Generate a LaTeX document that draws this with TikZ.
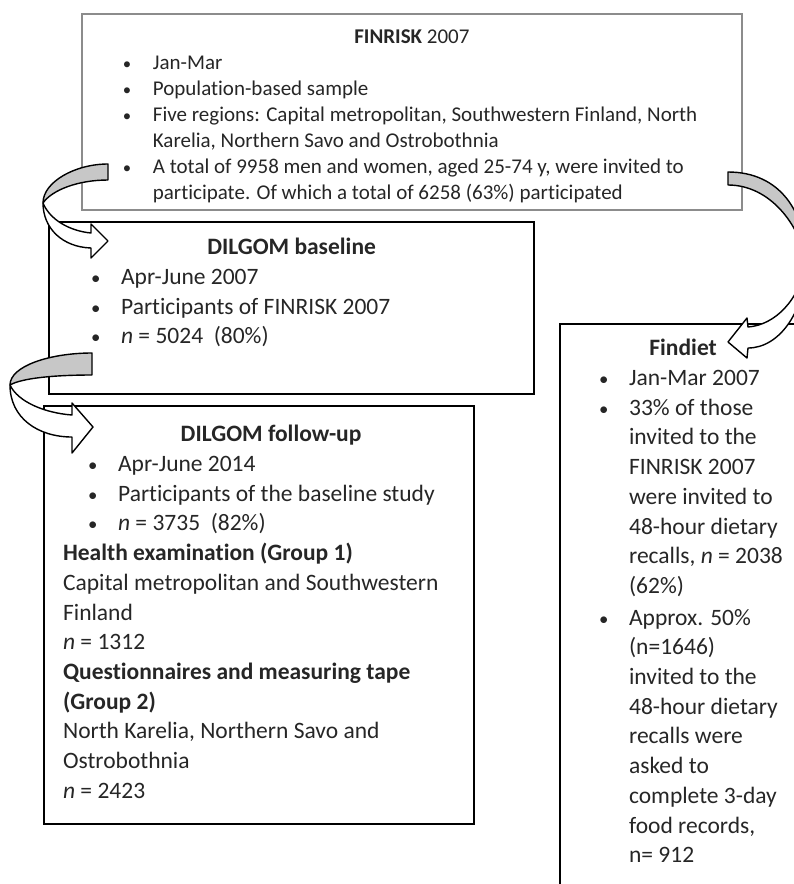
\documentclass[tikz,border=0pt]{standalone}
\usepackage{fontspec}
\setmainfont[Ligatures=CommonOff]{Carlito}

\newcommand{\itm}[1]{\mbox{\makebox[55pt][l]{\hspace{25pt}\scalebox{0.8}{\textbullet}}#1}}
\newcommand{\cnt}[1]{\mbox{\hspace*{55pt}#1}}

\begin{document}
\begin{tikzpicture}[x=1pt,y=-1pt]
\tikzstyle{box} = [rectangle, draw=black, line width=2.2pt, anchor=north west,
inner sep=0pt, text=black!85]
\tikzstyle{graybox} = [box, draw=black!45, line width=1.8pt]
\tikzstyle{back} = [draw=black, line width=1.4pt, fill=black!22, line join=round]
\tikzstyle{front} = [draw=black, line width=1.4pt, fill=white, line join=round]

\path[use as bounding box] (0,0) rectangle (794,884);
\clip (0,0) rectangle (794,884);

% FINRISK
\node [graybox, inner xsep=16pt, inner ysep=11pt] (finrisk) at (81,13) {%
\begin{minipage}[t][174pt][t]{628pt}
\fontsize{21}{26}\selectfont
\centering\strut\textbf{FINRISK} 2007\par
\raggedright
\itm{Jan-Mar}\\
\itm{Population-based sample}\\
\itm{Five regions: Capital metropolitan, Southwestern Finland, North}\\
\cnt{Karelia, Northern Savo and Ostrobothnia}\\
\itm{A total of 9958 men and women, aged 25-74 y, were invited to}\\
\cnt{participate. Of which a total of 6258 (63\%) participated}
\end{minipage}};

% DILGOM baseline
\node [box, inner xsep=17pt, inner ysep=12pt] (baseline) at (48,221) {%
\begin{minipage}[t][148pt][t]{451pt}
\fontsize{23.5}{29.7}\selectfont
\centering\strut\textbf{DILGOM baseline}\par
\raggedright
\itm{Apr-June 2007}\\
\itm{Participants of FINRISK 2007}\\
\itm{\textit{n} = 5024~~(80\%)}
\end{minipage}};

% DILGOM follow-up
\node [box, inner xsep=19pt, inner ysep=15pt] (followup) at (43,405) {%
\begin{minipage}[t][388pt][t]{392pt}
\fontsize{23.5}{29.7}\selectfont
\centering\strut\hspace*{24pt}\textbf{DILGOM follow-up}\par
\raggedright
\itm{Apr-June 2014}\\
\itm{Participants of the baseline study}\\
\itm{\textit{n} = 3735~~(82\%)}\\
\mbox{\textbf{Health examination (Group 1)}}\\
\mbox{Capital metropolitan and Southwestern}\\
Finland\\
\textit{n} = 1312\\
\mbox{\textbf{Questionnaires and measuring tape}}\\
\textbf{(Group 2)}\\
\mbox{North Karelia, Northern Savo and}\\
Ostrobothnia\\
\textit{n} = 2423
\end{minipage}};

% Findiet
\node [box, inner xsep=14pt, inner ysep=11pt] (findiet) at (559,323) {%
\begin{minipage}[t][575pt][t]{218pt}
\fontsize{23.5}{29.7}\selectfont
\centering\strut\textbf{Findiet}\par
\raggedright
\itm{Jan-Mar 2007}\\
\itm{33\% of those}\\
\cnt{invited to the}\\
\cnt{FINRISK 2007}\\
\cnt{were invited to}\\
\cnt{48-hour dietary}\\
\cnt{recalls, \textit{n} = 2038}\\
\cnt{(62\%)}\\[2pt]
\itm{Approx. 50\%}\\
\cnt{(n=1646)}\\
\cnt{invited to the}\\
\cnt{48-hour dietary}\\
\cnt{recalls were}\\
\cnt{asked to}\\
\cnt{complete 3-day}\\
\cnt{food records,}\\
\cnt{n= 912}
\end{minipage}};

% curved arrows
\path[back] (108,164) .. controls (75,164) and (43,182) .. (43,203)
  .. controls (52,190) and (78,180) .. (108,180) -- cycle;
\path[front] (43,203) .. controls (43,228) and (62,247) .. (91,248)
  -- (91,258) -- (108,241) -- (91,224) -- (91,233)
  .. controls (70,231) and (50,220) .. (43,203) -- cycle;

\path[back] (92,353) .. controls (50,353) and (10,366) .. (10,385)
  .. controls (22,378) and (55,375) .. (92,375) -- cycle;
\path[front] (10,385) .. controls (10,418) and (38,437) .. (72,437)
  -- (72,453) -- (93,427) -- (72,403) -- (72,415)
  .. controls (45,413) and (18,402) .. (10,385) -- cycle;

\path[back] (728,172) .. controls (780,172) and (806,212) .. (806,262)
  .. controls (800,225) and (770,185) .. (728,185) -- cycle;
\path[front] (806,262) .. controls (806,310) and (780,348) .. (748,348)
  -- (747,358) -- (728,342) -- (747,318) -- (748,327)
  .. controls (775,325) and (800,300) .. (806,262) -- cycle;

\end{tikzpicture}
\end{document}
